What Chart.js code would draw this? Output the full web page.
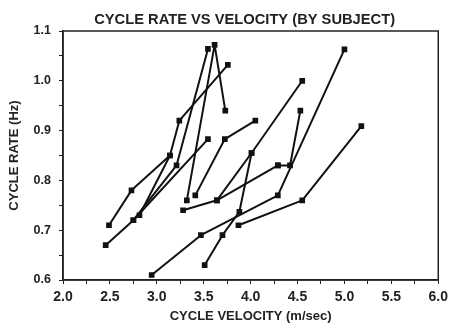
<!DOCTYPE html>
<html>
<head>
<meta charset="utf-8">
<script src="https://cdn.jsdelivr.net/npm/chart.js@4.4.1/dist/chart.umd.min.js"></script>
<style>
  html, body { margin: 0; padding: 0; background: #fff; }
  #wrap { width: 453px; height: 325px; }
</style>
</head>
<body>
<div id="wrap"><canvas id="rateChart"></canvas></div>
<script>
// Cycle velocity (m/sec) per subject
const velocities = [
    [2.49, 2.73, 3.14],
    [2.455, 2.75, 3.545],
    [2.815, 3.14, 3.24, 3.757],
    [2.75, 3.21, 3.545],
    [3.32, 3.616, 3.73],
    [3.41, 3.725, 4.05],
    [3.28, 3.64, 4.29],
    [4.29, 4.42, 4.53],
    [3.64, 4.01, 4.55],
    [3.51, 3.70, 3.88, 4.01],
    [2.945, 3.47, 4.29, 5.0],
    [3.87, 4.55, 5.18]
];
// Cycle rate (Hz) per subject
const rates = [
    [0.71, 0.78, 0.85],
    [0.67, 0.72, 0.883],
    [0.73, 0.85, 0.92, 1.032],
    [0.72, 0.83, 1.064],
    [0.76, 1.072, 0.94],
    [0.77, 0.883, 0.92],
    [0.74, 0.76, 0.83],
    [0.83, 0.83, 0.94],
    [0.76, 0.855, 1.0],
    [0.63, 0.69, 0.737, 0.855],
    [0.61, 0.69, 0.77, 1.063],
    [0.71, 0.76, 0.909]
];
const chartTitle = 'CYCLE RATE VS VELOCITY (BY SUBJECT)';
const xTitle = 'CYCLE VELOCITY (m/sec)';
const yTitle = 'CYCLE RATE (Hz)';

const datasets = velocities.map((vel, i) => ({
    label: 'Subject ' + (i + 1),
    data: vel.map((v, j) => ({ x: v, y: rates[i][j] })),
    borderColor: '#111',
    backgroundColor: '#111',
    borderWidth: 2,
    borderJoinStyle: 'round',
    pointStyle: 'rect',
    pointRadius: 2.6,
    pointHoverRadius: 2.6,
    showLine: true,
    tension: 0
}));

const font = 'Liberation Sans, Arial, sans-serif';

// box round the plot area, title centred over it
const frame = {
    id: 'frame',
    afterDraw(chart) {
        const { ctx, chartArea: a } = chart;
        ctx.save();
        ctx.strokeStyle = '#222';
        ctx.lineWidth = 1.5;
        ctx.strokeRect(a.left, a.top, a.right - a.left, a.bottom - a.top);
        ctx.fillStyle = '#222';
        ctx.font = 'bold 14.7px ' + font;
        ctx.textAlign = 'center';
        ctx.textBaseline = 'alphabetic';
        ctx.fillText(chartTitle, (a.left + a.right) / 2 - 6, 24);
        ctx.restore();
    }
};

new Chart(document.getElementById('rateChart'), {
    type: 'scatter',
    data: { datasets },
    options: {
        responsive: true,
        maintainAspectRatio: false,
        animation: false,
        layout: { padding: { left: 0, right: 12, top: 31, bottom: 0 } },
        plugins: {
            legend: { display: false },
            tooltip: { enabled: false },
            title: { display: false }
        },
        scales: {
            x: {
                type: 'linear',
                min: 2,
                max: 6,
                afterFit: s => { s.height = 45; },
                border: { display: true, color: '#222', width: 1.5 },
                grid: { drawOnChartArea: false, tickLength: 4, color: '#222', lineWidth: 1 },
                ticks: {
                    stepSize: 0.25,
                    autoSkip: false,
                    maxRotation: 0,
                    padding: 5,
                    color: '#222',
                    font: { family: font, size: 14, weight: 'bold' },
                    callback: (v, i) => (i % 2 === 0 ? Number(v).toFixed(1) : '')
                },
                title: {
                    display: true,
                    text: xTitle,
                    color: '#222',
                    font: { family: font, size: 13, weight: 'bold' },
                    padding: { top: 0, bottom: 1 }
                }
            },
            y: {
                type: 'linear',
                min: 0.6,
                max: 1.1,
                afterFit: s => { s.width = 63; },
                border: { display: true, color: '#222', width: 1.5 },
                grid: { drawOnChartArea: false, tickLength: 4, color: '#222', lineWidth: 1 },
                ticks: {
                    stepSize: 0.05,
                    autoSkip: false,
                    padding: 8,
                    color: '#222',
                    font: { family: font, size: 12.5, weight: 'bold' },
                    callback: (v, i) => (i % 2 === 0 ? Number(v).toFixed(1) : '')
                },
                title: {
                    display: true,
                    text: yTitle,
                    color: '#222',
                    font: { family: font, size: 13, weight: 'bold' },
                    padding: { top: 7, bottom: 0 }
                }
            }
        }
    },
    plugins: [frame]
});
</script>
</body>
</html>
